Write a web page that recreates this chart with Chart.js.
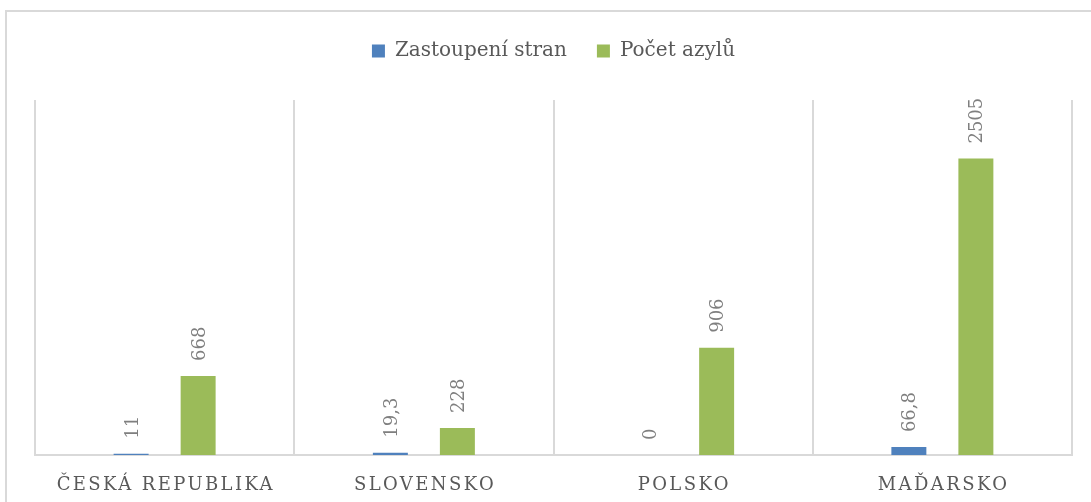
<!DOCTYPE html>
<html><head><meta charset="utf-8">
<script src="https://cdn.jsdelivr.net/npm/chart.js@4.4.1/dist/chart.umd.min.js"></script>
<style>
html,body{margin:0;padding:0;background:#fff;overflow:hidden;}
#wrap{position:relative;width:1091px;height:502px;}
#frame{position:absolute;left:5px;top:10px;width:1300px;height:700px;border:2px solid #d9d9d9;box-sizing:border-box;}
canvas{position:absolute;left:0;top:0;}
</style></head><body>
<div id="wrap"><div id="frame"></div><canvas id="c" width="1091" height="502"></canvas></div>
<script>
const categories = ['ČESKÁ REPUBLIKA', 'SLOVENSKO', 'POLSKO', 'MAĎARSKO'];
const seriesNames = ['Zastoupení stran', 'Počet azylů'];
const zastoupeni = [11, 19.3, 0, 66.8];
const azyly = [668, 228, 906, 2505];
const yMax = 3000;

const FONT = 'DejaVu Serif';

const legendSpacer = {
  id: 'legendSpacer',
  afterInit(chart) {
    const lg = chart.legend;
    if (!lg) return;
    const orig = lg.fit.bind(lg);
    lg.fit = function () { orig(); this.height += 29; };
  }
};

const labelsPlugin = {
  id: 'labelsPlugin',
  afterDatasetsDraw(chart) {
    const ctx = chart.ctx;
    ctx.save();
    ctx.font = '18px "' + FONT + '"';
    ctx.fillStyle = '#7f7f7f';
    ctx.textAlign = 'left';
    ctx.textBaseline = 'alphabetic';
    chart.data.datasets.forEach((ds, di) => {
      const meta = chart.getDatasetMeta(di);
      meta.data.forEach((el, i) => {
        const txt = String(ds.data[i]).replace('.', ',');
        ctx.save();
        ctx.translate(el.x, el.y - 15);
        ctx.rotate(-Math.PI / 2);
        ctx.fillText(txt, 0, 6.5);
        ctx.restore();
      });
    });
    ctx.restore();
  },
  afterDraw(chart) {
    const ctx = chart.ctx;
    const xs = chart.scales.x;
    ctx.save();
    ctx.font = '18px "' + FONT + '"';
    ctx.fillStyle = '#595959';
    ctx.textAlign = 'center';
    ctx.textBaseline = 'alphabetic';
    const sp = 2.4;
    ctx.letterSpacing = sp + 'px';
    categories.forEach((c, i) => {
      const x = xs.getPixelForValue(i);
      ctx.fillText(c, x + sp / 2, xs.bottom + 35);
    });
    ctx.restore();
  }
};

new Chart(document.getElementById('c'), {
  type: 'bar',
  data: {
    labels: categories,
    datasets: [
      { label: seriesNames[0], data: zastoupeni, backgroundColor: '#4f81bd', borderWidth: 0 },
      { label: seriesNames[1], data: azyly, backgroundColor: '#9bbb59', borderWidth: 0 }
    ]
  },
  options: {
    responsive: false,
    devicePixelRatio: 1,
    animation: false,
    datasets: { bar: { categoryPercentage: 0.517, barPercentage: 0.522 } },
    layout: { padding: { top: 11, left: 35, right: 19, bottom: 47 } },
    plugins: {
      legend: {
        position: 'top',
        labels: {
          boxWidth: 13, boxHeight: 13, padding: 30,
          color: '#595959',
          font: { family: FONT, size: 20 }
        }
      },
      tooltip: { enabled: false }
    },
    scales: {
      x: {
        offset: true,
        grid: { display: true, offset: true, color: '#d9d9d9', lineWidth: 2, drawTicks: false },
        border: { display: true, color: '#d9d9d9', width: 2 },
        ticks: { display: false }
      },
      y: {
        display: false,
        min: 0,
        max: yMax
      }
    }
  },
  plugins: [legendSpacer, labelsPlugin]
});
</script>
</body></html>
